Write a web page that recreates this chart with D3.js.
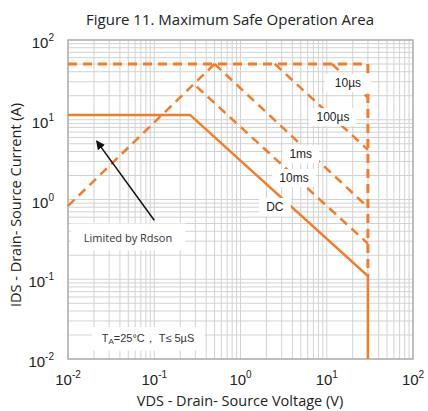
<!DOCTYPE html>
<html><head><meta charset="utf-8">
<script src="https://cdn.jsdelivr.net/npm/d3@7"></script>
<style>body{margin:0;background:#fff}svg{display:block}</style>
</head><body><div id="c"></div>
<script>
// Data (VDS in V, IDS in A)
const boundary10us = [[0.01,50],[30,50],[30,0.11]];
const rdson = [[0.01,0.83],[0.5,50]];
const line10us = [[11.5,50],[30,19]];
const line100us = [[2.5,50],[30,4.2]];
const line1ms = [[0.5,50],[30,0.8]];
const line10ms = [[0.31,26],[30,0.28]];
const lineDC = [[0.01,11.5],[0.26,11.5],[30,0.11],[30,0.01]];
const labelText = ["10µs","100µs","1ms","10ms","DC"];
const labelV = [17.6, 11.8, 5.0, 4.17, 2.5];
const labelI = [28.9, 10.8, 3.7, 1.86, 0.805];
const arrow = [[0.1,0.55],[0.0215,5.4]];
const xTicks = [0.01,0.1,1,10,100];
const yTicks = [0.01,0.1,1,10,100];
const xExp = ["-2","-1","0","1","2"];
const yExp = ["-2","-1","0","1","2"];

const W=428,H=411, m={l:68,r:15,t:40,b:52};
const svg=d3.select("#c").append("svg").attr("width",W).attr("height",H);
const x=d3.scaleLog().domain([0.01,100]).range([m.l,W-m.r]);
const y=d3.scaleLog().domain([0.01,100]).range([H-m.b,m.t]);
const orange="#F07D2C";

// minor & major grid
const minors=[];
for(let e=-2;e<2;e++) for(let k=1;k<10;k++) minors.push(k*Math.pow(10,e));
minors.push(100);
const g=svg.append("g");
g.selectAll(".gx").data(minors).join("line")
 .attr("x1",d=>x(d)).attr("x2",d=>x(d)).attr("y1",m.t).attr("y2",H-m.b)
 .attr("stroke","#d2d2d2").attr("stroke-width",1);
g.selectAll(".gy").data(minors).join("line")
 .attr("y1",d=>y(d)).attr("y2",d=>y(d)).attr("x1",m.l).attr("x2",W-m.r)
 .attr("stroke","#d2d2d2").attr("stroke-width",1);
svg.append("rect").attr("x",m.l).attr("y",m.t).attr("width",W-m.l-m.r).attr("height",H-m.t-m.b)
 .attr("fill","none").attr("stroke","#b0b0b0").attr("stroke-width",1.5);

const line=d3.line().x(d=>x(d[0])).y(d=>y(d[1]));
const dash="9,6";
function path(data,dashed,w){
  svg.append("path").attr("d",line(data)).attr("fill","none").attr("stroke",orange)
   .attr("stroke-width",w).attr("stroke-dasharray",dashed?dash:null);
}
path(rdson,true,2.5);
path(line10ms,true,2.5);
path(line1ms,true,2.5);
path(line100us,true,2.5);
path(line10us,true,2.5);
path(boundary10us,true,3);
path(lineDC,false,2.5);

// labels with white background
const lf="'Liberation Sans', Arial, sans-serif";
labelText.forEach((txt,i)=>{
  const t=svg.append("text").attr("x",x(labelV[i])).attr("y",y(labelI[i])).attr("text-anchor","middle")
   .attr("dominant-baseline","central").attr("font-family",lf).attr("font-size",12).attr("fill","#222").text(txt);
  const b=t.node().getBBox();
  const px = i===0 ? 10 : 7;
  svg.insert("rect",()=>t.node()).attr("x",b.x-px).attr("y",b.y-2).attr("width",b.width+2*px).attr("height",b.height+4).attr("fill","#fff");
});

// Limited by Rdson box
const lr=svg.append("text").attr("x",128).attr("y",237).attr("text-anchor","middle")
 .attr("dominant-baseline","central").attr("font-family","'Open Sans', sans-serif").attr("font-size",11).attr("fill","#333").text("Limited by Rdson");
{const b=lr.node().getBBox();
 svg.insert("rect",()=>lr.node()).attr("x",b.x-13).attr("y",b.y-6).attr("width",b.width+26).attr("height",b.height+12).attr("fill","#fff");}

// TA text
const ta=svg.append("text").attr("x",148).attr("y",338).attr("text-anchor","middle")
 .attr("dominant-baseline","central").attr("font-family",lf).attr("font-size",11).attr("fill","#333");
ta.append("tspan").text("T");
ta.append("tspan").attr("font-size",8).attr("dy",3).text("A");
ta.append("tspan").attr("dy",-3).text("=25°C， T≤ 5µS");
{const b=ta.node().getBBox();
 svg.insert("rect",()=>ta.node()).attr("x",b.x-10).attr("y",b.y-5).attr("width",b.width+20).attr("height",b.height+10).attr("fill","#fff");}

// arrow
svg.append("defs").append("marker").attr("id","ah").attr("viewBox","0 0 10 10").attr("refX",9).attr("refY",5)
 .attr("markerWidth",6).attr("markerHeight",6).attr("orient","auto")
 .append("path").attr("d","M0,0 L10,5 L0,10 z").attr("fill","#111");
svg.append("line").attr("x1",x(arrow[0][0])).attr("y1",y(arrow[0][1])).attr("x2",x(arrow[1][0])).attr("y2",y(arrow[1][1]))
 .attr("stroke","#111").attr("stroke-width",1.5).attr("marker-end","url(#ah)");

// axes tick labels
const tf="'Liberation Sans', Arial, sans-serif";
xTicks.forEach((v,i)=>{
  const t=svg.append("text").attr("x",x(v)).attr("y",H-m.b+26).attr("text-anchor","middle")
   .attr("font-family",tf).attr("font-size",15).attr("fill","#222");
  t.append("tspan").text("10");
  t.append("tspan").attr("font-size",10).attr("dy",-7).text(xExp[i]);
});
yTicks.forEach((v,i)=>{
  const t=svg.append("text").attr("x",m.l-14).attr("y",y(v)+8).attr("text-anchor","end")
   .attr("font-family",tf).attr("font-size",15).attr("fill","#222");
  t.append("tspan").text("10");
  t.append("tspan").attr("font-size",10).attr("dy",-7).text(yExp[i]);
});

// titles
const of="'Open Sans', 'Noto Sans', sans-serif";
svg.append("text").attr("x",230).attr("y",25).attr("text-anchor","middle").attr("font-family",of)
 .attr("font-size",15).attr("fill","#222").text("Figure 11. Maximum Safe Operation Area");
svg.append("text").attr("x",240).attr("y",406).attr("text-anchor","middle").attr("font-family",of)
 .attr("font-size",14.5).attr("fill","#222").text("VDS - Drain- Source Voltage (V)");
svg.append("text").attr("transform","translate(21,205) rotate(-90)").attr("text-anchor","middle").attr("font-family",of)
 .attr("font-size",14.5).attr("fill","#222").text("IDS - Drain- Source Current (A)");
</script></body></html>
